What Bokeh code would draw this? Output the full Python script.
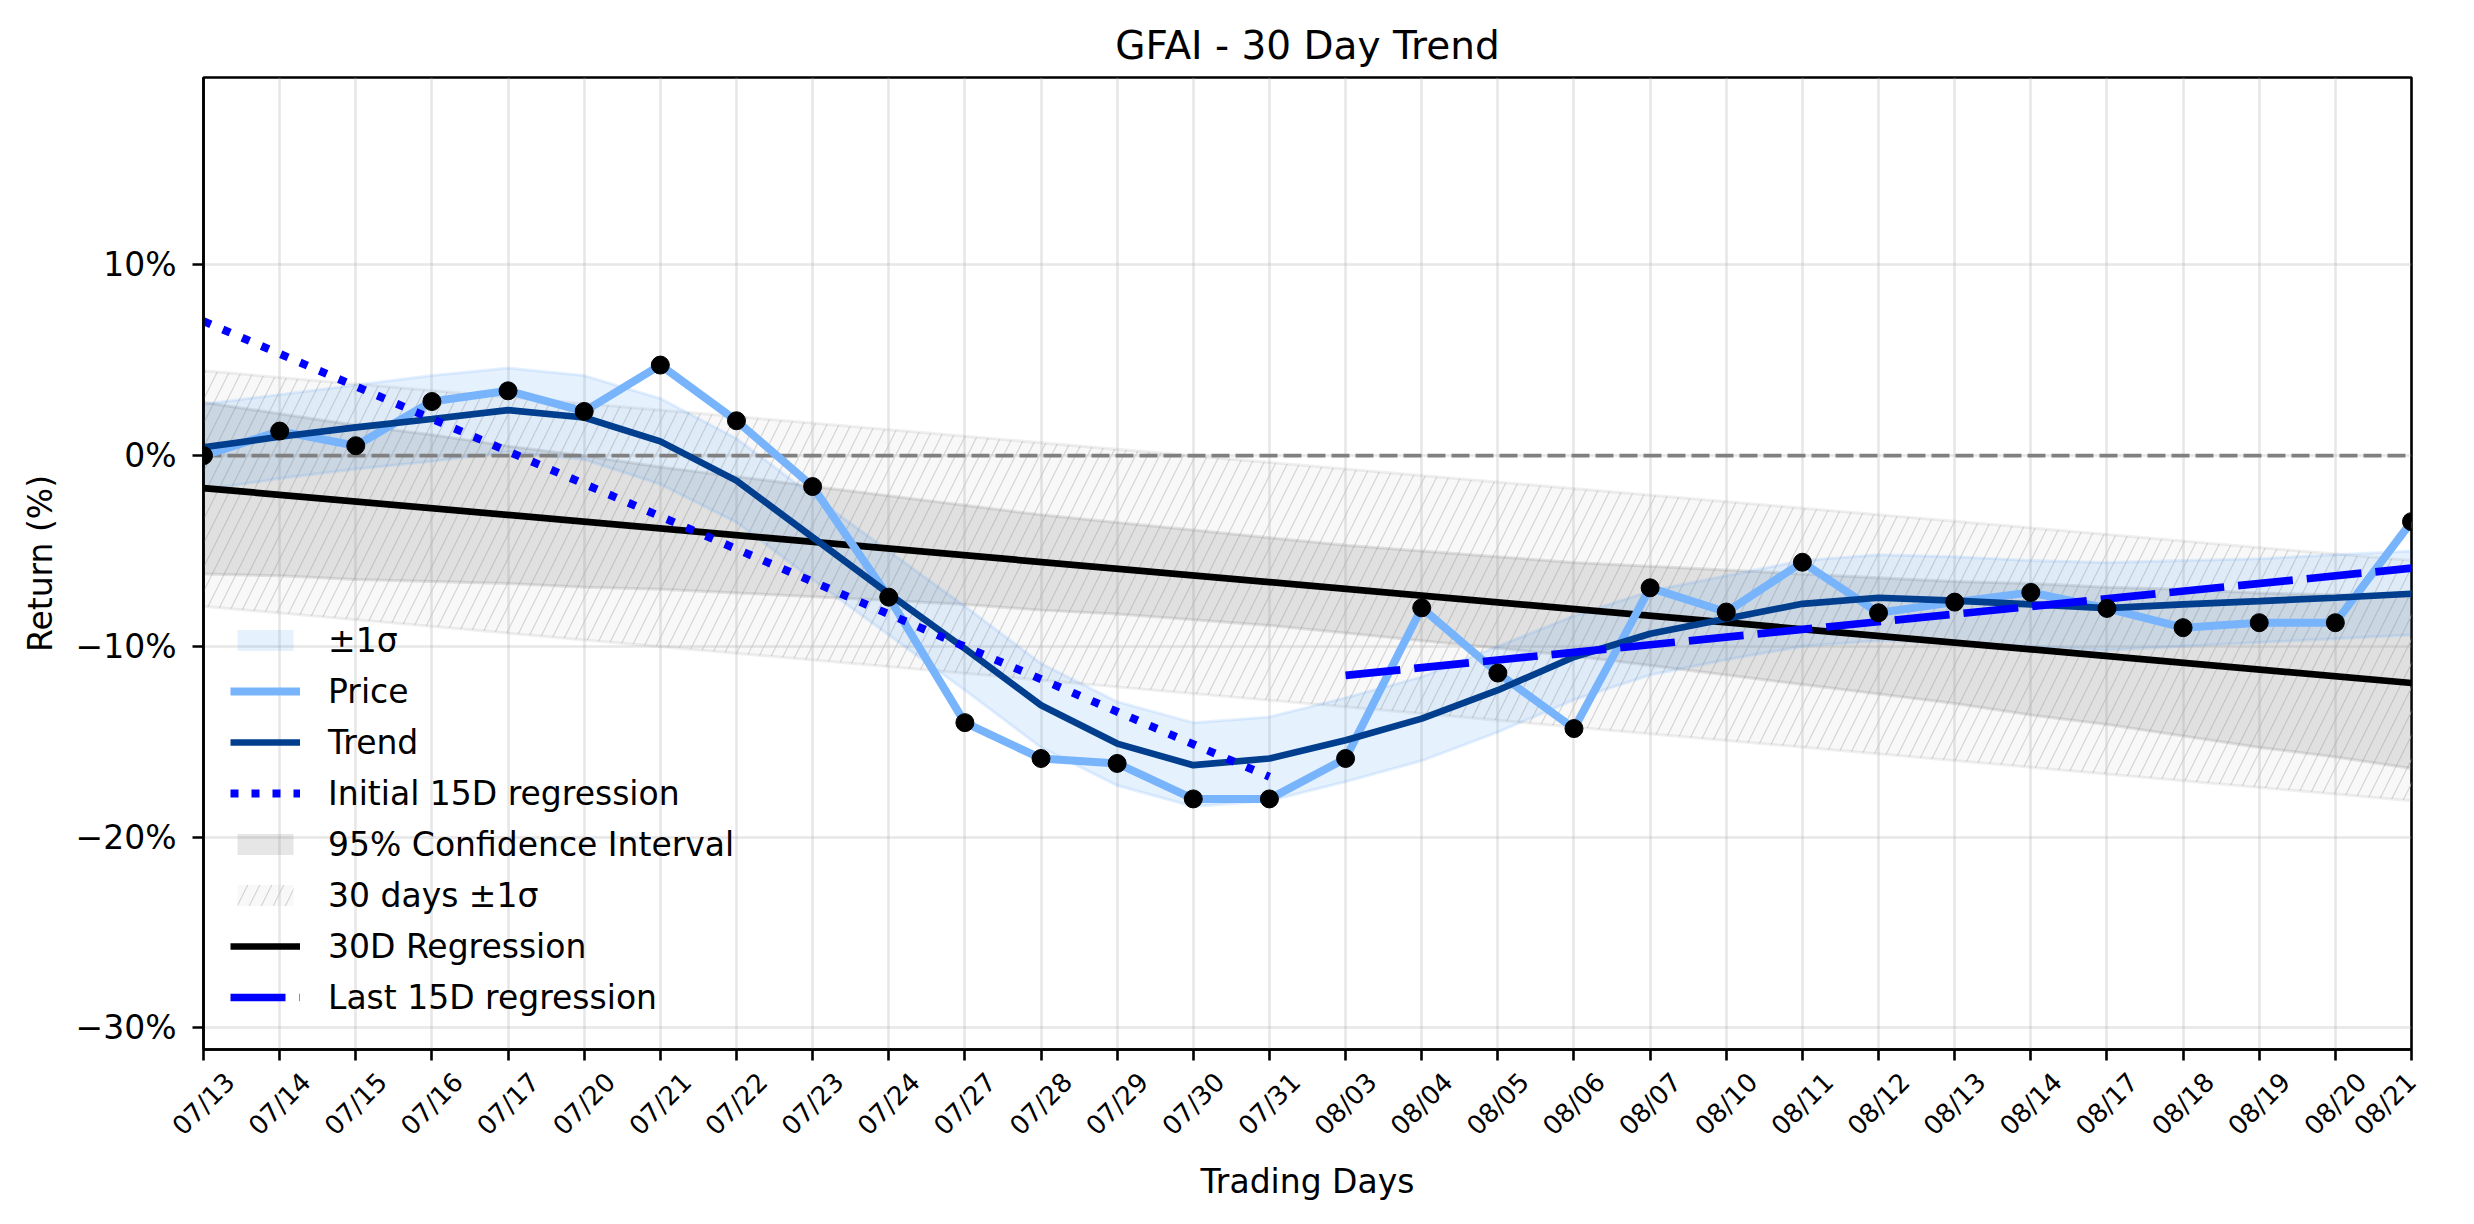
import math
from bokeh.plotting import figure
from bokeh.models import (Range1d, FixedTicker, Legend, LegendItem, LinearAxis,
                          CustomJSTickFormatter)
from bokeh.embed import file_html
from bokeh.resources import INLINE

# ---------------- data ----------------
dates = ["07/13", "07/14", "07/15", "07/16", "07/17", "07/20", "07/21", "07/22",
         "07/23", "07/24", "07/27", "07/28", "07/29", "07/30", "07/31", "08/03",
         "08/04", "08/05", "08/06", "08/07", "08/10", "08/11", "08/12", "08/13",
         "08/14", "08/17", "08/18", "08/19", "08/20", "08/21"]

price = [0.0, 1.29, 0.52, 2.84, 3.40, 2.32, 4.75, 1.83, -1.62, -7.42,
         -14.0, -15.88, -16.14, -18.0, -18.0, -15.88, -7.98, -11.4, -14.31, -6.93,
         -8.2, -5.59, -8.24, -7.68, -7.17, -8.01, -9.02, -8.76, -8.76, -3.46]

trend = [0.44, 0.99, 1.48, 1.92, 2.39, 2.0, 0.75, -1.31, -4.28, -7.24,
         -10.12, -13.09, -15.1, -16.23, -15.88, -14.92, -13.79, -12.3, -10.56, -9.34,
         -8.55, -7.77, -7.45, -7.6, -7.8, -8.0, -7.8, -7.63, -7.45, -7.24]

sigma_upper = [2.7, 3.2, 3.7, 4.2, 4.6, 4.2, 3.0, 0.9, -2.1, -5.0,
               -7.9, -10.9, -12.9, -14.0, -13.7, -12.7, -11.6, -10.0, -8.4, -7.1,
               -6.3, -5.5, -5.2, -5.3, -5.5, -5.6, -5.5, -5.4, -5.2, -5.0]
sigma_lower = [-1.8, -1.2, -0.7, -0.3, 0.2, -0.2, -1.5, -3.5, -6.5, -9.4,
               -12.3, -15.3, -17.3, -18.4, -18.1, -17.1, -16.0, -14.5, -12.8, -11.5,
               -10.7, -10.0, -9.7, -9.8, -10.0, -10.2, -10.0, -9.8, -9.6, -9.4]

ci_upper = [2.8, 2.2, 1.6, 1.1, 0.5, 0.0, -0.6, -1.1, -1.6, -2.1,
            -2.6, -3.1, -3.5, -3.9, -4.3, -4.7, -5.0, -5.3, -5.6, -5.8,
            -6.0, -6.2, -6.4, -6.6, -6.7, -6.9, -7.0, -7.2, -7.3, -7.4]
ci_lower = [-6.2, -6.3, -6.5, -6.6, -6.7, -6.9, -7.0, -7.2, -7.4, -7.6,
            -7.8, -8.1, -8.3, -8.6, -8.9, -9.3, -9.7, -10.1, -10.5, -11.0,
            -11.5, -12.0, -12.5, -13.0, -13.6, -14.1, -14.7, -15.3, -15.8, -16.4]

# straight lines: (start date, end date) and their values
reg30_dates = ["07/13", "08/21"]
reg30_vals = [-1.7, -11.92]
band30_upper = [4.45, -5.5]
band30_lower = [-7.9, -18.1]
init15_dates = ["07/13", "07/31"]
init15_vals = [7.05, -16.84]
last15_dates = ["08/03", "08/21"]
last15_vals = [-11.52, -5.9]

y_ticks = [-30, -20, -10, 0, 10]
y_tick_labels = ["\u221230%", "\u221220%", "\u221210%", "0%", "10%"]

TITLE = "GFAI - 30 Day Trend"

# ---------------- figure ----------------
FONT = "DejaVu Sans"
x = list(range(len(dates)))
def xs(ds):
    return [dates.index(d) for d in ds]

Y0, Y1 = -31.14, 19.83
FRAME_W, FRAME_H = 2208, 972
LEFT, RIGHT, TOP = 203, 47, 77
BOTTOM = 1208 - TOP - FRAME_H

p = figure(frame_width=FRAME_W, frame_height=FRAME_H,
           x_range=Range1d(x[0], x[-1]), y_range=Range1d(Y0, Y1),
           output_backend="svg", toolbar_location=None,
           min_border_left=LEFT, min_border_right=RIGHT,
           min_border_top=TOP, min_border_bottom=BOTTOM)
main_x = p.xaxis[0]
main_y = p.yaxis[0]

p.background_fill_color = "white"
p.border_fill_color = "white"
p.outline_line_color = "black"
p.outline_line_width = 2.6
p.outline_line_alpha = 1.0

for ax in (main_x, main_y):
    ax.axis_line_width = 2.6
    ax.major_tick_line_width = 2.6
    ax.major_tick_out = 11
    ax.major_tick_in = 0
    ax.minor_tick_line_color = None
    ax.axis_label_text_font = FONT
    ax.axis_label_text_font_size = "33px"
    ax.axis_label_text_font_style = "normal"
    ax.axis_label_text_color = "black"
    ax.major_label_text_font = FONT
    ax.major_label_text_color = "black"

main_y.ticker = FixedTicker(ticks=y_ticks)
main_y.major_label_overrides = {t: l for t, l in zip(y_ticks, y_tick_labels)}
main_y.major_label_text_font_size = "33px"
main_y.major_label_standoff = 16
main_y.axis_label = "Return (%)"
main_y.axis_label_standoff = 13

# main x axis: tick marks only
main_x.ticker = FixedTicker(ticks=x)
main_x.major_label_overrides = {i: "" for i in x}
main_x.major_label_text_font_size = "0px"
main_x.major_label_standoff = 0

# title, placed as the label of a bare axis above the frame (exact standoff control)
title_axis = LinearAxis(
    ticker=FixedTicker(ticks=[]), axis_line_color=None,
    major_tick_line_color=None, minor_tick_line_color=None,
    major_tick_out=0, major_tick_in=0, minor_tick_out=0, minor_tick_in=0,
    major_label_text_font_size="0px", major_label_standoff=0,
    axis_label=TITLE, axis_label_standoff=10,
    axis_label_text_font=FONT, axis_label_text_font_size="39px",
    axis_label_text_font_style="normal", axis_label_text_color="black")
p.add_layout(title_axis, "above")

# second x axis: the rotated date labels, shifted so each label is centred on its tick
# (the last one cannot be shifted past the frame edge, so it stays on its tick)
px_per_day = FRAME_W / (x[-1] - x[0])
shift = round(26.5 / px_per_day * 256) / 256
label_pos = [i + shift for i in x[:-1]] + [x[-1]]
lab_axis = LinearAxis(
    ticker=FixedTicker(ticks=label_pos),
    formatter=CustomJSTickFormatter(args=dict(labels=dates, shift=shift),
                                    code="return labels[Math.round(tick - shift)];"),
    axis_line_color=None, major_tick_line_color=None, minor_tick_line_color=None,
    major_tick_out=0, major_tick_in=0, minor_tick_out=0, minor_tick_in=0,
    major_label_orientation=math.pi / 4, major_label_standoff=17,
    major_label_text_font=FONT, major_label_text_font_size="26px",
    major_label_text_color="black",
    axis_label="Trading Days", axis_label_standoff=7,
    axis_label_text_font=FONT, axis_label_text_font_size="33px",
    axis_label_text_font_style="normal", axis_label_text_color="black")
p.add_layout(lab_axis, "below")

p.xgrid.ticker = FixedTicker(ticks=x)
p.ygrid.ticker = FixedTicker(ticks=y_ticks)
for g in (p.xgrid[0], p.ygrid[0]):
    g.grid_line_color = "#b0b0b0"
    g.grid_line_alpha = 0.3
    g.grid_line_width = 2.6

# ---------------- bands ----------------
r_hatch = p.varea(x=xs(reg30_dates), y1=band30_lower, y2=band30_upper,
                  fill_color="gray", fill_alpha=0.06,
                  hatch_pattern="/", hatch_color="#c4c4c4", hatch_alpha=0.7,
                  hatch_scale=24, hatch_weight=1.2)
for yy in (band30_upper, band30_lower):
    p.line(xs(reg30_dates), yy, line_color="gray", line_alpha=0.12, line_width=3)

r_ci = p.varea(x=x, y1=ci_lower, y2=ci_upper, fill_color="gray", fill_alpha=0.2)
for yy in (ci_upper, ci_lower):
    p.line(x, yy, line_color="gray", line_alpha=0.2, line_width=3)

r_sigma = p.varea(x=x, y1=sigma_lower, y2=sigma_upper,
                  fill_color="#3d94f5", fill_alpha=0.13)
for yy in (sigma_upper, sigma_lower):
    p.line(x, yy, line_color="#3d94f5", line_alpha=0.13, line_width=3)

p.line(xs(reg30_dates), [0, 0], line_color="gray", line_width=3.9, line_dash="18 6")

# ---------------- lines ----------------
r_reg = p.line(xs(reg30_dates), reg30_vals, line_color="black", line_width=6.7)
r_price = p.line(x, price, line_color="#78b4fb", line_width=8)
r_trend = p.line(x, trend, line_color="#023e8e", line_width=6.7)
r_init = p.line(xs(init15_dates), init15_vals, line_color="blue", line_width=8,
                line_dash="8 13")
r_last = p.line(xs(last15_dates), last15_vals, line_color="blue", line_width=7.7,
                line_dash="55 14")
p.scatter(x, price, size=18, fill_color="black", line_color="black")

# ---------------- legend ----------------
legend = Legend(items=[
    LegendItem(label="\u00b11\u03c3", renderers=[r_sigma]),
    LegendItem(label="Price", renderers=[r_price]),
    LegendItem(label="Trend", renderers=[r_trend]),
    LegendItem(label="Initial 15D regression", renderers=[r_init]),
    LegendItem(label="95% Confidence Interval", renderers=[r_ci]),
    LegendItem(label="30 days \u00b11\u03c3", renderers=[r_hatch]),
    LegendItem(label="30D Regression", renderers=[r_reg]),
    LegendItem(label="Last 15D regression", renderers=[r_last]),
], location=(27, 32))
legend.label_text_font = FONT
legend.label_text_font_size = "33px"
legend.label_text_color = "black"
legend.glyph_width = 70
legend.glyph_height = 26
legend.label_height = 40
legend.label_standoff = 28
legend.spacing = 11
legend.padding = 0
legend.margin = 0
legend.border_line_color = None
legend.background_fill_alpha = 0
p.add_layout(legend)

open("out.html", "w").write(file_html(p, INLINE))
